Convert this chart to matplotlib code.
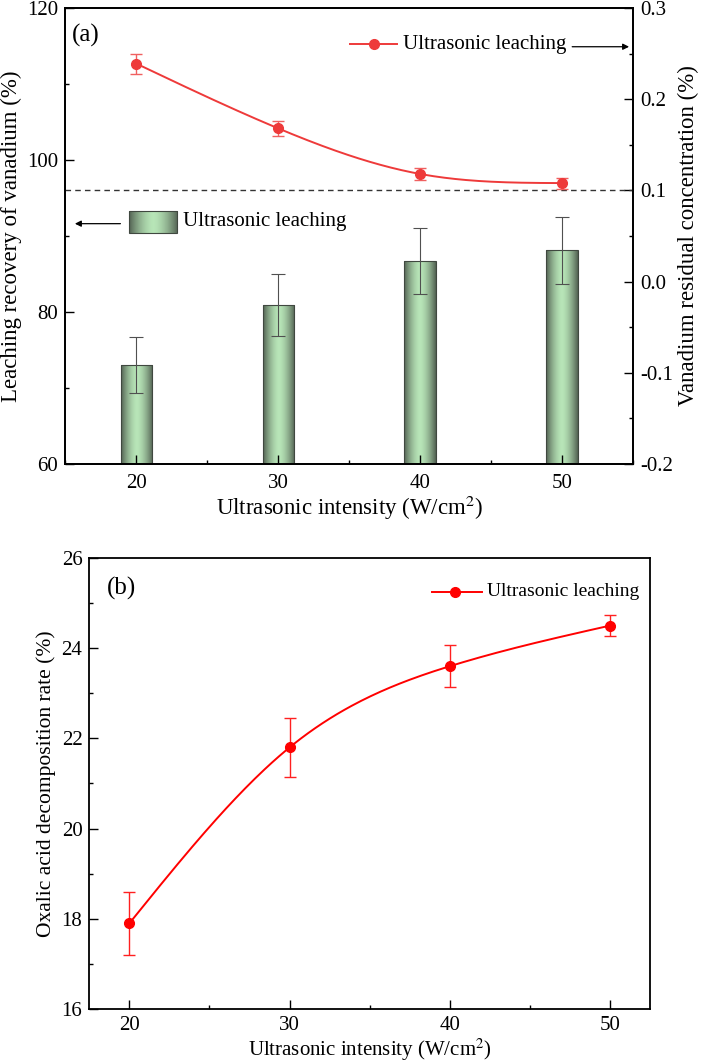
import numpy as np
import matplotlib.pyplot as plt
from matplotlib.patches import Rectangle
from matplotlib.ticker import MultipleLocator

plt.rcParams['font.family'] = ['Liberation Serif', 'DejaVu Serif']
plt.rcParams['mathtext.fontset'] = 'stix'

intensity = [20, 30, 40, 50]
recovery = [73.0, 80.9, 86.7, 88.1]
recovery_err = [3.7, 4.1, 4.3, 4.4]
residual = [0.239, 0.168, 0.118, 0.108]
residual_err = [0.011, 0.008, 0.007, 0.006]
oxalic = [17.9, 21.8, 23.6, 24.5]
oxalic_err = [0.70, 0.66, 0.47, 0.24]


def natural_spline(x, y, xs):
    # natural cubic spline, just for drawing the smooth curve through the points
    x = np.asarray(x, float)
    y = np.asarray(y, float)
    n = len(x)
    h = np.diff(x)
    A = np.zeros((n, n))
    b = np.zeros(n)
    A[0, 0] = A[-1, -1] = 1
    for i in range(1, n - 1):
        A[i, i - 1] = h[i - 1]
        A[i, i] = 2 * (h[i - 1] + h[i])
        A[i, i + 1] = h[i]
        b[i] = 6 * ((y[i + 1] - y[i]) / h[i] - (y[i] - y[i - 1]) / h[i - 1])
    M = np.linalg.solve(A, b)
    idx = np.clip(np.searchsorted(x, xs) - 1, 0, n - 2)
    x0, x1 = x[idx], x[idx + 1]
    hh = x1 - x0
    t0, t1 = x1 - xs, xs - x0
    return (M[idx] * t0**3 / (6 * hh) + M[idx + 1] * t1**3 / (6 * hh)
            + (y[idx] / hh - M[idx] * hh / 6) * t0
            + (y[idx + 1] / hh - M[idx + 1] * hh / 6) * t1)


def gradient_img():
    t = np.linspace(0, 1, 64)
    w = 1 - np.abs(2 * t - 1) ** 1.6
    dark = np.array([0.33, 0.39, 0.33])
    light = np.array([0.72, 0.90, 0.72])
    return (dark[None, :] + (light - dark)[None, :] * w[:, None])[None, :, :]


def style_ticks(ax, xpad=7):
    ax.tick_params(which='both', direction='in', labelsize=15)
    ax.tick_params(which='major', length=6.5, width=1.0)
    ax.tick_params(which='minor', length=3, width=1.0)
    ax.tick_params(axis='y', pad=5)
    ax.tick_params(axis='x', pad=xpad)
    for s in ax.spines.values():
        s.set_linewidth(1.3)


fig = plt.figure(figsize=(7.09, 10.63), dpi=100)

# ---------------- (a) ----------------
ax = fig.add_axes([0.0921, 0.5635, 0.8007, 0.4290])
bars = ax.bar(intensity, [r - 60 for r in recovery], width=2.2, bottom=60,
              color='none', edgecolor='#404840', linewidth=0.8, zorder=2)
img = gradient_img()
for b in bars:
    x0, y0 = b.get_x(), b.get_y()
    im = ax.imshow(img, extent=[x0, x0 + b.get_width(), y0, y0 + b.get_height()],
                   aspect='auto', zorder=1.5)
    im.set_clip_path(b)
ax.errorbar(intensity, recovery, yerr=recovery_err, fmt='none', ecolor='#505050',
            elinewidth=0.8, capsize=5, capthick=0.8, zorder=3)
ax.set_xlim(15, 55)
ax.set_ylim(60, 120)
ax.xaxis.set_major_locator(MultipleLocator(10))
ax.xaxis.set_minor_locator(MultipleLocator(5))
ax.yaxis.set_major_locator(MultipleLocator(20))
ax.yaxis.set_minor_locator(MultipleLocator(10))
style_ticks(ax)
ax.tick_params(axis='x', which='both', top=False)
ax.set_xlabel('Ultrasonic intensity (W/cm$^2$)', fontsize=16.5, labelpad=1)
ax.set_ylabel('Leaching recovery of vanadium (%)', fontsize=16.5, labelpad=4)

ax2 = ax.twinx()
xs = np.linspace(20, 50, 200)
ax2.plot(xs, natural_spline(intensity, residual, xs), color='#ee3a3a', lw=1.4, zorder=3)
ax2.errorbar(intensity, residual, yerr=residual_err, fmt='o', color='#ee3a3a',
             ecolor='#f06060', ms=7, elinewidth=1.0, capsize=4, capthick=1.0, zorder=4)
ax2.axhline(0.1, color='#333333', lw=1.0, ls=(0, (4, 3)), zorder=2)
ax2.set_ylim(-0.2, 0.3)
ax2.yaxis.set_major_locator(MultipleLocator(0.1))
ax2.yaxis.set_minor_locator(MultipleLocator(0.05))
ax2.yaxis.set_major_formatter(plt.FuncFormatter(lambda v, p: f'{v:.1f}'))
style_ticks(ax2)
ax2.set_ylabel('Vanadium residual concentration (%)', fontsize=16.5, labelpad=4)

ax.text(0.012, 0.94, '(a)', transform=ax.transAxes, fontsize=18, va='center')

# line legend + arrow to right axis
ax2.plot([0.502, 0.585], [0.92, 0.92], transform=ax2.transAxes, color='#ee3a3a', lw=1.4)
ax2.plot([0.543], [0.92], 'o', transform=ax2.transAxes, color='#ee3a3a', ms=7)
ax2.text(0.594, 0.92, 'Ultrasonic leaching', transform=ax2.transAxes, fontsize=15, va='center')
ax2.annotate('', xy=(0.998, 0.915), xytext=(0.888, 0.915), xycoords='axes fraction',
             arrowprops=dict(arrowstyle='-|>', color='black', lw=0.9, mutation_scale=9))

# bar legend + arrow to left axis
leg_img = ax.imshow(img, extent=[0.112, 0.197, 0.507, 0.555], transform=ax.transAxes,
                    aspect='auto', zorder=3)
ax.add_patch(Rectangle((0.112, 0.507), 0.085, 0.048, transform=ax.transAxes,
                       fill=False, edgecolor='#404840', lw=0.8, zorder=4))
ax.text(0.207, 0.531, 'Ultrasonic leaching', transform=ax.transAxes, fontsize=15, va='center')
ax.annotate('', xy=(0.012, 0.527), xytext=(0.102, 0.527), xycoords='axes fraction',
            arrowprops=dict(arrowstyle='-|>', color='black', lw=0.9, mutation_scale=9))
ax.set_xlim(15, 55)
ax.set_ylim(60, 120)

# ---------------- (b) ----------------
bx = fig.add_axes([0.126, 0.0508, 0.7908, 0.4243])
xs = np.linspace(20, 50, 200)
bx.plot(xs, natural_spline(intensity, oxalic, xs), color='#ff0000', lw=1.4, zorder=3)
bx.errorbar(intensity, oxalic, yerr=oxalic_err, fmt='o', color='#ff0000',
            ecolor='#ff2020', ms=7, elinewidth=1.0, capsize=4, capthick=1.0, zorder=4)
bx.set_xlim(17.5, 52.5)
bx.set_ylim(16, 26)
bx.xaxis.set_major_locator(MultipleLocator(10))
bx.xaxis.set_minor_locator(MultipleLocator(5))
bx.yaxis.set_major_locator(MultipleLocator(2))
bx.yaxis.set_minor_locator(MultipleLocator(1))
style_ticks(bx, xpad=5)
bx.set_xlabel('Ultrasonic intensity (W/cm$^2$)', fontsize=15, labelpad=1)
bx.set_ylabel('Oxalic acid decomposition rate (%)', fontsize=15.5, labelpad=4)
bx.text(0.032, 0.933, '(b)', transform=bx.transAxes, fontsize=18, va='center')

bx.plot([0.611, 0.700], [0.925, 0.925], transform=bx.transAxes, color='#ff0000', lw=1.4)
bx.plot([0.652], [0.925], 'o', transform=bx.transAxes, color='#ff0000', ms=7)
bx.text(0.709, 0.925, 'Ultrasonic leaching', transform=bx.transAxes, fontsize=14, va='center')

fig.savefig('out.png', dpi=100)
